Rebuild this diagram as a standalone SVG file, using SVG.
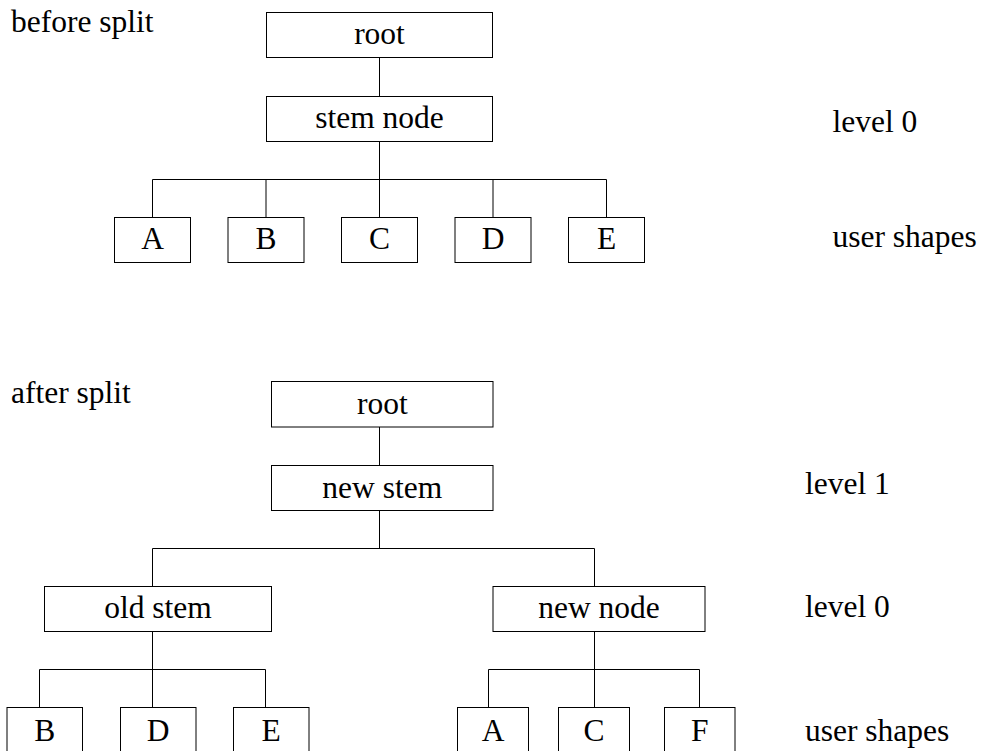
<svg xmlns="http://www.w3.org/2000/svg" width="981" height="751" viewBox="0 0 981 751">
<style>
text{font-family:"Liberation Serif","Times New Roman",serif;font-size:31.5px;fill:#000}
.c{text-anchor:middle}
rect{fill:#fff;stroke:#000;stroke-width:1}
.conn path{fill:none;stroke:#000;stroke-width:1}
</style>
<rect x="0" y="0" width="981" height="751" style="stroke:none"/>
<g id="labels">
<text x="11" y="32">before split</text>
<text x="832.5" y="132">level 0</text>
<text x="832.5" y="247">user shapes</text>
<text x="11" y="403">after split</text>
<text x="805" y="493.5">level 1</text>
<text x="805" y="617">level 0</text>
<text x="805" y="741">user shapes</text>
</g>
<g class="conn" id="connectors">
<path d="M379.5 57.5V96M379.5 141V179.5M152.5 179.5H606.5M152.5 179.5V217M266 179.5V217M379.5 179.5V217M493 179.5V217M606.5 179.5V217"/>
<path d="M379.5 427V465.5M379.5 510.5V548.5M152.5 548.5H594.5M152.5 548.5V586.5M594.5 548.5V586.5"/>
<path d="M152.5 631.5V669.5M39.5 669.5H265.5M39.5 669.5V707.5M152.5 669.5V707.5M265.5 669.5V707.5"/>
<path d="M594.5 631.5V669.5M488.5 669.5H699.5M488.5 669.5V707.5M594.5 669.5V707.5M699.5 669.5V707.5"/>
</g>
<g id="root1"><rect x="266.5" y="12.5" width="226" height="45"/><text class="c" x="379.5" y="44">root</text></g>
<g id="stem1"><rect x="266.5" y="96.5" width="226" height="45"/><text class="c" x="379.5" y="128">stem node</text></g>
<g id="a1"><rect x="114.5" y="217.5" width="76" height="45"/><text class="c" x="152.5" y="249">A</text></g>
<g id="b1"><rect x="228" y="217.5" width="76" height="45"/><text class="c" x="266" y="249">B</text></g>
<g id="c1"><rect x="341.5" y="217.5" width="76" height="45"/><text class="c" x="379.5" y="249">C</text></g>
<g id="d1"><rect x="455" y="217.5" width="76" height="45"/><text class="c" x="493" y="249">D</text></g>
<g id="e1"><rect x="568.5" y="217.5" width="76" height="45"/><text class="c" x="606.5" y="249">E</text></g>
<g id="root2"><rect x="271.5" y="381.5" width="221.5" height="45.5"/><text class="c" x="382.3" y="413.5">root</text></g>
<g id="newstem"><rect x="271.5" y="465.5" width="221.5" height="45"/><text class="c" x="382.3" y="497.5">new stem</text></g>
<g id="oldstem"><rect x="44.5" y="586.5" width="227" height="45"/><text class="c" x="158" y="618.3">old stem</text></g>
<g id="newnode"><rect x="493" y="586.5" width="212" height="45"/><text class="c" x="599" y="618.3">new node</text></g>
<g id="b2"><rect x="7" y="707.5" width="75.5" height="45"/><text class="c" x="44.7" y="741">B</text></g>
<g id="d2"><rect x="120.5" y="707.5" width="75.5" height="45"/><text class="c" x="158.2" y="741">D</text></g>
<g id="e2"><rect x="233.5" y="707.5" width="75.5" height="45"/><text class="c" x="271.2" y="741">E</text></g>
<g id="a2"><rect x="457.5" y="707.5" width="71" height="45"/><text class="c" x="493" y="741">A</text></g>
<g id="c2"><rect x="558.5" y="707.5" width="71" height="45"/><text class="c" x="594" y="741">C</text></g>
<g id="f2"><rect x="664.5" y="707.5" width="70.5" height="45"/><text class="c" x="699.7" y="741">F</text></g>
</svg>
